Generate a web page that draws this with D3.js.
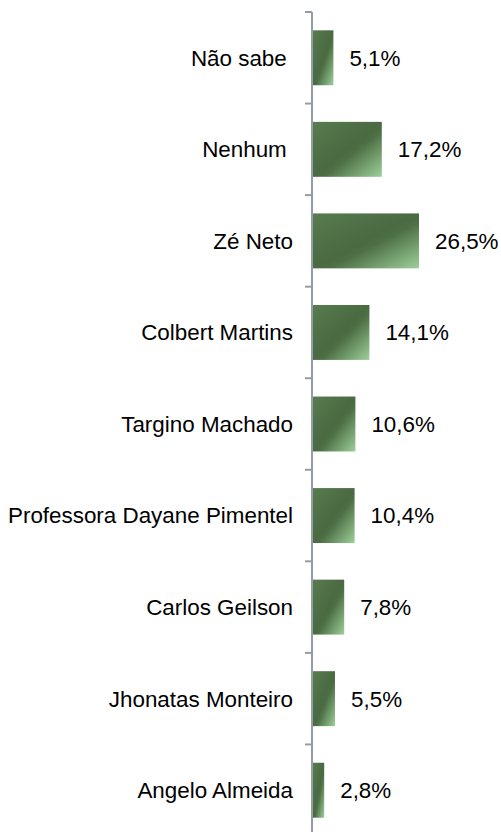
<!DOCTYPE html>
<html>
<head>
<meta charset="utf-8">
<script src="https://cdn.jsdelivr.net/npm/d3@7"></script>
<style>
  html, body { margin: 0; padding: 0; background: #fff; }
  svg { display: block; }
  text { font-family: "Liberation Sans", Arial, sans-serif; font-size: 22.4px; fill: #000; white-space: pre; }
</style>
</head>
<body>
<div class="chart-container"></div>
<script>
const categories = [
  'Não sabe ',
  'Nenhum ',
  'Zé Neto',
  'Colbert Martins',
  'Targino Machado',
  'Professora Dayane Pimentel',
  'Carlos Geilson',
  'Jhonatas Monteiro',
  'Angelo Almeida'
];
const values = [5.1, 17.2, 26.5, 14.1, 10.6, 10.4, 7.8, 5.5, 2.8];
const valueLabels = ['5,1%', '17,2%', '26,5%', '14,1%', '10,6%', '10,4%', '7,8%', '5,5%', '2,8%'];

function createSvg(width, height) {
  return d3.select('.chart-container')
    .append('svg')
    .attr('width', width)
    .attr('height', height);
};

function addGradient(svg) {
  const grad = svg.append('defs')
    .append('linearGradient')
    .attr('id', 'barFill')
    .attr('x1', 0).attr('y1', 0)
    .attr('x2', 1).attr('y2', 1);
  grad.append('stop').attr('offset', '0%').attr('stop-color', '#587b4f');
  grad.append('stop').attr('offset', '50%').attr('stop-color', '#4a6a41');
  grad.append('stop').attr('offset', '58%').attr('stop-color', '#4e7046');
  grad.append('stop').attr('offset', '100%').attr('stop-color', '#9dd09a');
};

function draw() {
  const width = 501, height = 832;
  const x0 = 313;
  const svg = createSvg(width, height);
  addGradient(svg);

  const y = d3.scaleBand()
    .domain(categories)
    .range([12, 836])
    .paddingInner(0.4)
    .paddingOuter(0.2);

  const x = d3.scaleLinear()
    .domain([0, 1])
    .range([x0, x0 + 4]);

  // bars
  svg.append('g')
    .selectAll('rect')
    .data(values)
    .join('rect')
    .attr('x', x(0))
    .attr('y', (d, i) => y(categories[i]))
    .attr('width', d => x(d) - x(0))
    .attr('height', y.bandwidth())
    .attr('fill', 'url(#barFill)');

  // value labels
  svg.append('g')
    .selectAll('text')
    .data(values)
    .join('text')
    .attr('x', d => x(d) + 16)
    .attr('y', (d, i) => y(categories[i]) + y.bandwidth() / 2)
    .attr('dy', '0.35em')
    .text((d, i) => valueLabels[i]);

  // category labels
  svg.append('g')
    .selectAll('text')
    .data(categories)
    .join('text')
    .attr('x', 293)
    .attr('y', d => y(d) + y.bandwidth() / 2)
    .attr('dy', '0.35em')
    .attr('text-anchor', 'end')
    .text(d => d);

  // axis with ticks on category boundaries
  const axis = svg.append('g').attr('class', 'axis');
  const step = y.step();
  const bounds = d3.range(categories.length + 1).map(i => 12 + i * step);
  axis.append('line')
    .attr('x1', x0 - 1).attr('x2', x0 - 1)
    .attr('y1', 12).attr('y2', 836)
    .attr('stroke', '#969ca5')
    .attr('stroke-width', 2);
  axis.selectAll('.tick')
    .data(bounds)
    .join('line')
    .attr('class', 'tick')
    .attr('x1', x0 - 8).attr('x2', x0 - 1)
    .attr('y1', d => d).attr('y2', d => d)
    .attr('stroke', '#969ca5')
    .attr('stroke-width', 2);
};

draw();
</script>
</body>
</html>
